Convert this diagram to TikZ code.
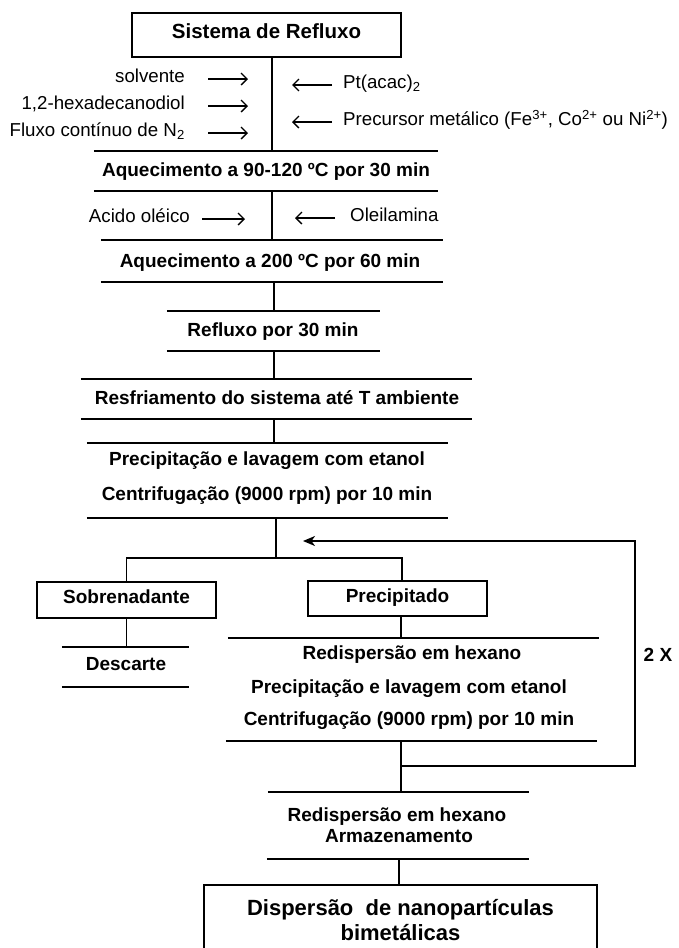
\documentclass[tikz,border=0pt]{standalone}
\usepackage{fontspec}
\setmainfont{Liberation Sans}
\usetikzlibrary{arrows.meta}
\begin{document}
\begin{tikzpicture}[x=1pt,y=-1pt,
  every node/.style={inner sep=0pt, text height=0.716em, text depth=0pt},
  lab/.style={font=\fontsize{18.7}{22}\selectfont},
  st/.style={font=\fontsize{19}{22}\selectfont\bfseries},
  ln/.style={line width=1.5pt},
  arr/.style={line width=1.4pt, -{Straight Barb[length=6pt,width=12pt]}},
  fbarr/.style={line width=1.5pt, -{Stealth[length=12pt,width=10pt,inset=3.5pt]}},
  rl/.style={minimum width=#1, minimum height=0pt, text height=0pt},
  bx/.style={draw, line width=1.5pt, font=\fontsize{19}{22}\selectfont\bfseries},
]
\useasboundingbox (0,0) rectangle (678,948);

% column coordinates
\coordinate (xa) at (272,0);
\coordinate (xb) at (274,0);
\coordinate (xc) at (276,0);
\coordinate (xd) at (402,0);
\coordinate (xe) at (401,0);
\coordinate (xf) at (399,0);
\coordinate (br) at (276,558);
\coordinate (fb) at (635,766);
\coordinate (fa) at (635,541);
\coordinate (tip) at (303,541);

% top box
\node[bx, minimum width=269pt, minimum height=44pt, font=\fontsize{20.5}{23}\selectfont\bfseries] (top) at (266.5,35) {Sistema de Refluxo};

% reagent labels
\node[lab, anchor=east] (solv) at (185,79) {solvente};
\node[lab, anchor=east] (hexa) at (185,106) {1,2-hexadecanodiol};
\node[lab, anchor=east] (flux) at (185,133) {Fluxo contínuo de N\textsubscript{2}};
\node[lab, anchor=west] (pt) at (343,85) {Pt(acac)\textsubscript{2}};
\node[lab, anchor=west] (prec) at (343,122) {Precursor metálico (Fe\textsuperscript{3+}, Co\textsuperscript{2+} ou Ni\textsuperscript{2+})};
\node[lab, anchor=east] (acid) at (190,219) {Acido oléico};
\node[lab, anchor=west] (olei) at (350,218) {Oleilamina};

% rules
\node[rl=344pt] (l1) at (266,151) {};
\node[rl=344pt] (l2) at (266,191) {};
\node[rl=342pt] (l3) at (272,240) {};
\node[rl=342pt] (l4) at (272,282) {};
\node[rl=213pt] (l5) at (273.5,311) {};
\node[rl=213pt] (l6) at (273.5,351) {};
\node[rl=391pt] (l7) at (276.5,379) {};
\node[rl=391pt] (l8) at (276.5,419) {};
\node[rl=361pt] (l9) at (267.5,443) {};
\node[rl=361pt] (l10) at (267.5,518) {};
\node[rl=127pt] (l11) at (125.5,647) {};
\node[rl=127pt] (l12) at (125.5,687) {};
\node[rl=371pt] (l13) at (413.5,638) {};
\node[rl=371pt] (l14) at (411.5,741) {};
\node[rl=261pt] (l15) at (398.5,792) {};
\node[rl=262pt] (l16) at (398,859) {};
\foreach \n in {l1,l2,l3,l4,l5,l6,l7,l8,l9,l10,l11,l12,l13,l14,l15,l16}
  \draw[ln] (\n.west) -- (\n.east);

% step texts
\node[st] (t1) at (266,173) {Aquecimento a 90-120 ºC por 30 min};
\node[st] (t2) at (270,264) {Aquecimento a 200 ºC por 60 min};
\node[st] (t3) at (273,333) {Refluxo por 30 min};
\node[st] (t4) at (277,401) {Resfriamento do sistema até T ambiente};
\node[st] (t5a) at (267,462) {Precipitação e lavagem com etanol};
\node[st] (t5b) at (267,497) {Centrifugação (9000 rpm) por 10 min};
\node[bx, minimum width=179pt, minimum height=36pt] (sob) at (126.5,600) {Sobrenadante};
\node[bx, minimum width=179pt, minimum height=35pt] (ppt) at (397.5,598.5) {Precipitado};
\node[st] (t6) at (126,667) {Descarte};
\node[st] (t7a) at (412,656) {Redispersão em hexano};
\node[st] (t7b) at (409,690) {Precipitação e lavagem com etanol};
\node[st] (t7c) at (409,722) {Centrifugação (9000 rpm) por 10 min};
\node[st] (t8a) at (397,818) {Redispersão em hexano};
\node[st] (t8b) at (399,839) {Armazenamento};
\node[st] (rep) at (658,658) {2 X};
\node[draw, line width=1.5pt, minimum width=393pt, minimum height=70pt, align=center,
      text height=, font=\fontsize{22}{25}\selectfont\bfseries] (fin) at (400.5,920)
      {Dispersão\ \ de nanopartículas\\bimetálicas};

% reagent arrows
\draw[arr] ([xshift=23pt]solv.east) -- ([xshift=63pt]solv.east);
\draw[arr] ([xshift=23pt]hexa.east) -- ([xshift=63pt]hexa.east);
\draw[arr] ([xshift=23pt]flux.east) -- ([xshift=63pt]flux.east);
\draw[arr] ([xshift=-11pt]pt.west) -- ([xshift=-51pt]pt.west);
\draw[arr] ([xshift=-11pt]prec.west) -- ([xshift=-51pt]prec.west);
\draw[arr] ([xshift=12pt]acid.east) -- ([xshift=55pt]acid.east);
\draw[arr] ([xshift=-15pt]olei.west) -- ([xshift=-55pt]olei.west);

% flow connectors
\draw[ln] (top.south -| xa) -- (l1 -| xa);
\draw[ln] (l2 -| xa) -- (l3 -| xa);
\draw[ln] (l4 -| xb) -- (l5 -| xb);
\draw[ln] (l6 -| xb) -- (l7 -| xb);
\draw[ln] (l8 -| xb) -- (l9 -| xb);
\draw[ln] (l10 -| xc) -- (br);
\draw[ln] (sob.north) -- (sob.north |- br) -- (br -| xd) -- (ppt.north -| xd);
\draw[ln] (sob.south) -- (l11 -| sob.south);
\draw[ln] (ppt.south -| xe) -- (l13 -| xe);
\draw[ln] (l14 -| xe) -- (l15 -| xe);
\draw[fbarr] (fb -| xe) -- (fb) -- (fa) -- (tip);
\draw[ln] (l16 -| xf) -- (fin.north -| xf);
\end{tikzpicture}
\end{document}
